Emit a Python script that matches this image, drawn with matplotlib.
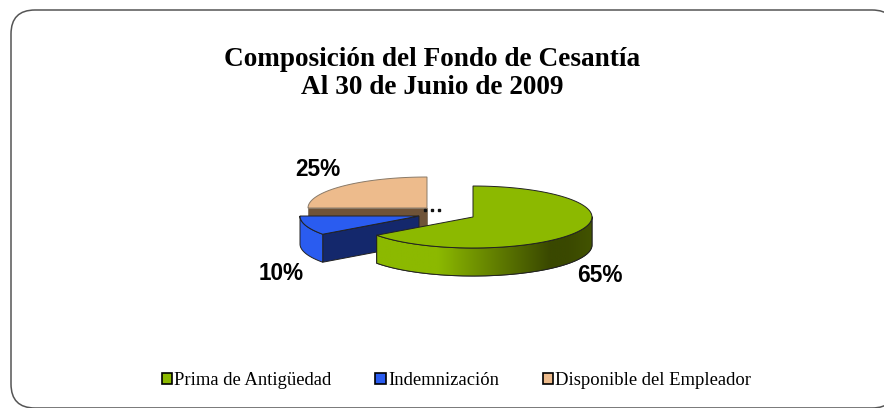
import numpy as np
from matplotlib import pyplot as plt
from matplotlib.patches import FancyBboxPatch, Polygon, Patch

title_lines = ['Composición del Fondo de Cesantía', 'Al 30 de Junio de 2009']
categories = ['Prima de Antigüedad', 'Indemnización', 'Disponible del Empleador']
shares = [65, 10, 25]
labels = ['65%', '10%', '25%']

top_colors = ['#8cb900', '#2a5cf0', '#edbb8c']
wall_colors = ['#8cb900', '#2a5cf0', '#edbb8c']
cut_colors = [None, '#14286c', '#6f5338']
edge_colors = ['#222222', '#222222', '#8a7a68']

# pie geometry in pixels, each slice has its own exploded centre
centres = [(473, 217), (419, 216), (427, 208)]
rx, ry, depth = 119, 31, 28
label_pos = [(600, 276), (281, 274), (318, 169)]


def rim(c, a0, a1, n=80):
    # angles are clockwise from 12 o'clock, as the pie is drawn
    t = np.radians(np.linspace(a0, a1, n))
    return np.column_stack([c[0] + rx * np.sin(t), c[1] - ry * np.cos(t)])


def down(pts):
    return pts + np.array([0, depth])


fig = plt.figure(figsize=(8.84, 4.08), dpi=100)
ax = fig.add_axes([0, 0, 1, 1])
ax.set_xlim(0, 884)
ax.set_ylim(408, 0)
ax.axis('off')

ax.add_patch(FancyBboxPatch((11, 10), 885, 398, boxstyle='round,pad=0,rounding_size=24',
                            fc='white', ec='#555555', lw=1.1, zorder=0))

angles = np.cumsum([0] + shares) * 3.6

# back to front: tan, blue, green
for i in [2, 1, 0]:
    c = centres[i]
    a0, a1 = angles[i], angles[i + 1]
    z = 10 + (2 - i) * 3
    edge = dict(ec=edge_colors[i], lw=0.7)

    # cut face towards the viewer
    if cut_colors[i] is not None:
        p = np.array([rim(c, a0, a0, 2)[0], c])
        ax.add_patch(Polygon(np.vstack([p, down(p)[::-1]]), fc=cut_colors[i], zorder=z, **edge))

    # outer wall, only the part at the front
    f0, f1 = max(a0, 90), min(a1, 270)
    if f1 > f0:
        r = rim(c, f0, f1)
        wall = Polygon(np.vstack([r, down(r)[::-1]]), fc=wall_colors[i], zorder=z + 1, **edge)
        ax.add_patch(wall)
        if i == 0:
            # dark shading on the right of the green wall
            shade = np.interp(np.linspace(0, 1, 256), [0, 0.28, 0.8, 0.88, 1], [0, 0, 1, 1, 0.9])
            low = np.array([0x8c, 0xb9, 0x00]) / 255
            high = np.array([0x3a, 0x48, 0x00]) / 255
            grad = low + (high - low) * shade[None, :, None]
            im = ax.imshow(grad, extent=(r[:, 0].min(), r[:, 0].max(), 290, 200),
                           aspect='auto', zorder=z + 1.1)
            im.set_clip_path(wall)
            r_line = np.vstack([r, down(r)[::-1], r[:1]])
            ax.plot(r_line[:, 0], r_line[:, 1], color='#222222', lw=0.7, zorder=z + 1.2)

    # top face
    top = np.vstack([[c], rim(c, a0, a1)])
    ax.add_patch(Polygon(top, fc=top_colors[i], zorder=z + 2, **edge))

ax.set_xlim(0, 884)
ax.set_ylim(408, 0)

# the little leftover dots beside the centre
ax.plot([425, 432, 439], [210, 210, 210], ls='none', marker='s', ms=1.6, color='#111111', zorder=30)

for (x, y), s in zip(label_pos, labels):
    ax.text(x, y, s, family='Liberation Sans', weight='bold', fontsize=16.3,
            ha='center', va='center', color='black', zorder=31)

for y, s in zip([60, 88], title_lines):
    ax.text(432, y, s, family='Liberation Serif', weight='bold', fontsize=19.6,
            ha='center', va='center', color='black')

handles = [Patch(fc=col, ec='black', lw=1.2) for col in top_colors]
ax.legend(handles, categories, ncol=3, loc='center', bbox_to_anchor=(456.5 / 884, 1 - 380.5 / 408),
          frameon=False, handlelength=0.55, handleheight=0.55, handletextpad=0.12,
          columnspacing=2.36, prop={'family': 'Liberation Serif', 'size': 13.4})

fig.savefig('out.png', dpi=100)
